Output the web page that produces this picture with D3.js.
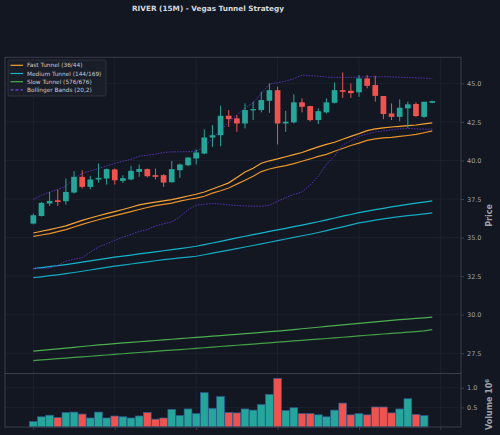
<!DOCTYPE html>
<html>
<head>
<meta charset="utf-8">
<script src="https://cdn.jsdelivr.net/npm/d3@7"></script>
<style>
    body { margin: 0; background: #131722; }
    #chart { width: 500px; height: 435px; }
    text { font-family: "DejaVu Sans", sans-serif; }
</style>
</head>
<body>
<div id="chart"></div>
<script>
// Candle data
const opens  = [35.91, 36.40, 37.21, 37.42, 37.36, 37.92, 38.94, 38.29, 38.77, 38.83,
                39.42, 38.68, 38.77, 39.26, 39.44, 39.05, 39.05, 38.59, 39.37, 39.69,
                40.13, 40.45, 41.49, 41.64, 42.90, 42.73, 42.40, 43.25, 43.27, 43.87,
                44.56, 42.40, 42.47, 43.77, 43.53, 42.62, 43.12, 43.74, 44.56, 44.52,
                44.42, 45.32, 44.89, 44.18, 43.05, 42.83, 43.38, 43.66, 42.83, 43.74];
const highs  = [36.56, 37.31, 37.96, 38.12, 38.83, 39.31, 39.37, 39.00, 39.81, 39.48,
                39.48, 39.04, 39.65, 39.74, 39.48, 39.48, 39.11, 39.97, 39.81, 40.23,
                40.71, 42.01, 42.29, 43.55, 43.27, 42.94, 43.70, 43.81, 44.45, 45.00,
                44.78, 43.22, 44.29, 44.03, 43.55, 43.38, 44.03, 45.06, 45.71, 45.00,
                45.54, 45.54, 45.49, 44.18, 43.70, 43.96, 43.81, 43.77, 43.81, 43.87];
const lows   = [35.86, 36.37, 37.05, 37.05, 37.14, 37.86, 38.18, 38.14, 38.57, 38.44,
                38.44, 38.55, 38.72, 38.94, 38.90, 38.77, 38.29, 38.57, 38.87, 39.63,
                39.74, 40.41, 40.88, 40.93, 42.18, 41.86, 42.08, 42.62, 43.12, 43.09,
                41.04, 41.86, 42.40, 43.12, 42.53, 42.36, 43.05, 43.70, 44.06, 44.06,
                44.13, 44.68, 43.81, 42.68, 42.62, 42.55, 42.12, 42.83, 42.77, 43.72];
const closes = [36.45, 37.25, 37.38, 37.31, 37.96, 38.94, 38.29, 38.77, 38.87, 39.44,
                38.72, 38.85, 39.33, 39.45, 38.98, 38.94, 38.57, 39.44, 39.74, 40.19,
                40.52, 41.49, 41.64, 42.90, 42.68, 42.40, 43.27, 43.33, 43.92, 44.56,
                42.40, 42.51, 43.77, 43.48, 42.62, 43.20, 43.77, 44.56, 44.45, 44.37,
                45.32, 44.84, 44.19, 43.01, 42.83, 43.42, 43.64, 42.88, 43.81, 43.85];
// Volume in millions
const volumes = [0.14, 0.26, 0.30, 0.24, 0.37, 0.38, 0.33, 0.23, 0.38, 0.23,
                 0.28, 0.26, 0.23, 0.28, 0.37, 0.20, 0.23, 0.45, 0.29, 0.46,
                 0.34, 0.875, 0.475, 0.775, 0.37, 0.36, 0.46, 0.43, 0.57, 0.83,
                 1.24, 0.42, 0.49, 0.34, 0.34, 0.31, 0.26, 0.43, 0.61, 0.31,
                 0.34, 0.31, 0.51, 0.51, 0.36, 0.46, 0.72, 0.32, 0.29, 0.0];

// Tunnels and Bollinger bands
const fastUpper = [35.30, 35.41, 35.52, 35.64, 35.76, 35.94, 36.12, 36.27, 36.42, 36.56,
                   36.69, 36.82, 36.97, 37.12, 37.22, 37.30, 37.38, 37.46, 37.58, 37.70,
                   37.81, 37.96, 38.15, 38.35, 38.55, 38.90, 39.26, 39.50, 39.82, 39.98,
                   40.10, 40.24, 40.38, 40.52, 40.70, 40.88, 41.04, 41.18, 41.38, 41.56,
                   41.74, 41.94, 42.05, 42.12, 42.17, 42.21, 42.26, 42.30, 42.37, 42.44];
const fastLower = [35.08, 35.17, 35.26, 35.39, 35.52, 35.69, 35.86, 36.01, 36.16, 36.30,
                   36.43, 36.56, 36.69, 36.82, 36.95, 37.07, 37.16, 37.24, 37.36, 37.47,
                   37.56, 37.68, 37.88, 38.04, 38.22, 38.47, 38.72, 38.98, 39.28, 39.45,
                   39.57, 39.67, 39.80, 39.95, 40.10, 40.27, 40.40, 40.60, 40.78, 40.97,
                   41.13, 41.30, 41.40, 41.46, 41.50, 41.56, 41.62, 41.69, 41.80, 41.92];
const medUpper  = [32.99, 33.05, 33.12, 33.18, 33.25, 33.33, 33.41, 33.49, 33.57, 33.65,
                   33.73, 33.80, 33.87, 33.94, 34.01, 34.08, 34.15, 34.22, 34.29, 34.36,
                   34.44, 34.54, 34.65, 34.76, 34.87, 34.98, 35.09, 35.19, 35.29, 35.40,
                   35.50, 35.60, 35.71, 35.81, 35.92, 36.03, 36.15, 36.27, 36.39, 36.50,
                   36.62, 36.72, 36.81, 36.90, 36.99, 37.07, 37.15, 37.23, 37.30, 37.38];
const medLower  = [32.40, 32.46, 32.53, 32.59, 32.66, 32.74, 32.82, 32.90, 32.99, 33.07,
                   33.15, 33.22, 33.29, 33.36, 33.43, 33.50, 33.57, 33.62, 33.68, 33.73,
                   33.79, 33.89, 33.99, 34.09, 34.19, 34.29, 34.39, 34.49, 34.59, 34.70,
                   34.80, 34.91, 35.01, 35.12, 35.22, 35.33, 35.45, 35.58, 35.70, 35.83,
                   35.95, 36.04, 36.13, 36.21, 36.30, 36.36, 36.42, 36.48, 36.54, 36.60];
const slowUpper = [27.64, 27.69, 27.74, 27.79, 27.84, 27.89, 27.94, 27.99, 28.04, 28.08,
                   28.13, 28.17, 28.21, 28.25, 28.29, 28.33, 28.37, 28.41, 28.45, 28.49,
                   28.53, 28.57, 28.61, 28.65, 28.69, 28.73, 28.77, 28.81, 28.85, 28.90,
                   28.94, 28.99, 29.04, 29.09, 29.14, 29.19, 29.24, 29.29, 29.34, 29.39,
                   29.44, 29.49, 29.54, 29.59, 29.64, 29.68, 29.72, 29.76, 29.80, 29.85];
const slowLower = [27.03, 27.07, 27.11, 27.15, 27.19, 27.23, 27.27, 27.31, 27.35, 27.39,
                   27.43, 27.47, 27.51, 27.55, 27.59, 27.63, 27.67, 27.71, 27.74, 27.78,
                   27.82, 27.86, 27.90, 27.94, 27.98, 28.02, 28.06, 28.10, 28.14, 28.18,
                   28.22, 28.26, 28.30, 28.34, 28.38, 28.42, 28.46, 28.50, 28.54, 28.58,
                   28.63, 28.67, 28.71, 28.75, 28.79, 28.83, 28.87, 28.91, 28.95, 29.03];
const bbUpper   = [37.47, 37.75, 37.96, 38.12, 38.33, 38.83, 39.16, 39.33, 39.48, 39.65,
                   39.81, 39.95, 40.08, 40.28, 40.34, 40.41, 40.52, 40.56, 40.56, 40.57,
                   40.60, 40.88, 41.43, 41.95, 42.50, 42.95, 43.40, 43.74, 44.35, 44.95,
                   45.04, 45.15, 45.30, 45.54, 45.50, 45.47, 45.40, 45.39, 45.39, 45.39,
                   45.40, 45.43, 45.43, 45.43, 45.42, 45.40, 45.38, 45.36, 45.34, 45.30];
const bbLower   = [32.99, 33.00, 33.03, 33.20, 33.48, 33.60, 33.70, 34.06, 34.39, 34.60,
                   34.82, 35.04, 35.20, 35.40, 35.52, 35.75, 35.90, 36.01, 36.35, 36.80,
                   37.10, 37.16, 37.21, 37.18, 37.12, 37.08, 37.05, 37.04, 37.03, 37.10,
                   37.35, 37.60, 37.80, 37.96, 38.40, 38.98, 39.75, 40.30, 41.00, 41.30,
                   41.55, 41.72, 41.85, 41.93, 41.98, 42.05, 42.08, 42.05, 42.04, 42.03];

const priceTicks = [27.5, 30.0, 32.5, 35.0, 37.5, 40.0, 42.5, 45.0];
const volumeTicks = [0.5, 1.0];
const xTicks = [0, 10, 20, 30, 40, 50];

const legendItems = [
    {label: 'Fast Tunnel (36/44)', color: '#f7a233', dash: null},
    {label: 'Medium Tunnel (144/169)', color: '#14b5cc', dash: null},
    {label: 'Slow Tunnel (576/676)', color: '#4caf50', dash: null},
    {label: 'Bollinger Bands (20,2)', color: '#6a48d8', dash: '3,2'}
];

const UP = '#26a69a';
const DOWN = '#ef5350';
const GRID = '#1f2330';
const SPINE = '#3a3e4a';
const TEXT = '#9ea3ad';

function drawChart() {
    const width = 500, height = 435;
    const left = 5, right = 461;
    const priceTop = 57.3, priceBottom = 373.5;
    const volTop = 373.5, volBottom = 427;

    const svg = d3.select('#chart')
        .append('svg')
        .attr('width', width)
        .attr('height', height);

    svg.append('rect')
        .attr('width', width)
        .attr('height', height)
        .attr('fill', '#131722');

    const idx = d3.range(closes.length);

    // Scales
    const x = d3.scaleLinear().domain([-3.48, 52.53]).range([left, right]);
    const y = d3.scaleLinear().domain([26.19, 46.69]).range([priceBottom, priceTop]);
    const yv = d3.scaleLinear().domain([0, d3.max(volumes) * 1.1]).range([volBottom, volTop]);
    const step = x(1) - x(0);

    // Grid lines
    const grid = svg.append('g').attr('stroke', GRID).attr('stroke-width', 0.8);
    grid.selectAll('.vx')
        .data(xTicks)
        .enter().append('line')
        .attr('x1', d => x(d)).attr('x2', d => x(d))
        .attr('y1', priceTop).attr('y2', volBottom);
    grid.selectAll('.hy')
        .data(priceTicks)
        .enter().append('line')
        .attr('x1', left).attr('x2', right)
        .attr('y1', d => y(d)).attr('y2', d => y(d));
    grid.selectAll('.hv')
        .data(volumeTicks)
        .enter().append('line')
        .attr('x1', left).attr('x2', right)
        .attr('y1', d => yv(d)).attr('y2', d => yv(d));

    // Price panel clip
    svg.append('clipPath').attr('id', 'priceClip')
        .append('rect')
        .attr('x', left).attr('y', priceTop)
        .attr('width', right - left).attr('height', priceBottom - priceTop);

    const pg = svg.append('g').attr('clip-path', 'url(#priceClip)');

    const line = arr => d3.line()
        .x((d, i) => x(i))
        .y(d => y(d))(arr);

    // Tunnels
    const series = [
        {data: slowUpper, color: '#4caf50'},
        {data: slowLower, color: '#43a047'},
        {data: medUpper, color: '#14b5cc'},
        {data: medLower, color: '#14a9c2'},
        {data: fastUpper, color: '#f7a233'},
        {data: fastLower, color: '#e8922a'}
    ];
    series.forEach(s => {
        pg.append('path')
            .attr('d', line(s.data))
            .attr('fill', 'none')
            .attr('stroke', s.color)
            .attr('stroke-width', 1.2);
    });

    // Bollinger bands
    [bbUpper, bbLower].forEach(b => {
        pg.append('path')
            .attr('d', line(b))
            .attr('fill', 'none')
            .attr('stroke', '#5232b0')
            .attr('stroke-width', 1)
            .attr('stroke-dasharray', '1.6,1.2');
    });

    // Candles
    const bodyW = step * 0.7;
    const candles = pg.selectAll('.candle')
        .data(idx)
        .enter().append('g')
        .attr('class', 'candle');
    candles.append('line')
        .attr('x1', i => x(i)).attr('x2', i => x(i))
        .attr('y1', i => y(highs[i])).attr('y2', i => y(lows[i]))
        .attr('stroke', i => closes[i] >= opens[i] ? UP : DOWN)
        .attr('stroke-width', 1);
    candles.append('rect')
        .attr('x', i => x(i) - bodyW / 2)
        .attr('width', bodyW)
        .attr('y', i => y(Math.max(opens[i], closes[i])))
        .attr('height', i => Math.max(1, Math.abs(y(opens[i]) - y(closes[i]))))
        .attr('fill', i => closes[i] >= opens[i] ? UP : DOWN);

    // Volume bars
    const volW = step * 0.95;
    svg.append('g').selectAll('rect')
        .data(idx.filter(i => volumes[i] > 0))
        .enter().append('rect')
        .attr('x', i => x(i) - volW / 2)
        .attr('width', volW)
        .attr('y', i => yv(volumes[i]))
        .attr('height', i => yv(0) - yv(volumes[i]))
        .attr('fill', i => closes[i] >= opens[i] ? UP : DOWN)
        .attr('stroke', '#2a5f93')
        .attr('stroke-width', 0.7);

    // Frames
    svg.append('rect')
        .attr('x', left).attr('y', priceTop)
        .attr('width', right - left).attr('height', priceBottom - priceTop)
        .attr('fill', 'none').attr('stroke', SPINE).attr('stroke-width', 1);
    svg.append('rect')
        .attr('x', left).attr('y', volTop)
        .attr('width', right - left).attr('height', volBottom - volTop)
        .attr('fill', 'none').attr('stroke', SPINE).attr('stroke-width', 1);

    // Right axes
    const yAxis = d3.axisRight(y)
        .tickValues(priceTicks)
        .tickFormat(d3.format('.1f'))
        .tickSize(3).tickPadding(3);
    const ya = svg.append('g')
        .attr('transform', `translate(${right},0)`)
        .call(yAxis);
    const yvAxis = d3.axisRight(yv)
        .tickValues(volumeTicks)
        .tickFormat(d3.format('.1f'))
        .tickSize(3).tickPadding(3);
    const yva = svg.append('g')
        .attr('transform', `translate(${right},0)`)
        .call(yvAxis);
    const xAxis = d3.axisBottom(x)
        .tickValues(xTicks)
        .tickFormat('')
        .tickSize(3);
    const xa = svg.append('g')
        .attr('transform', `translate(0,${volBottom})`)
        .call(xAxis);
    [ya, yva, xa].forEach(a => {
        a.select('.domain').remove();
        a.selectAll('line').attr('stroke', SPINE);
        a.selectAll('text')
            .attr('fill', TEXT)
            .style('font-size', '6.5px')
            .style('font-family', '"DejaVu Sans", sans-serif');
    });

    // Axis titles
    svg.append('text')
        .attr('transform', `translate(492,${(priceTop + priceBottom) / 2}) rotate(-90)`)
        .attr('text-anchor', 'middle')
        .attr('fill', TEXT)
        .style('font-size', '8px')
        .style('font-weight', 'bold')
        .text('Price');
    const vt = svg.append('text')
        .attr('transform', `translate(492,${volBottom + 3}) rotate(-90)`)
        .attr('text-anchor', 'start')
        .attr('fill', TEXT)
        .style('font-size', '8px')
        .style('font-weight', 'bold');
    vt.append('tspan').text('Volume  10');
    vt.append('tspan').attr('dy', -3).style('font-size', '5.5px').text('6');

    // Title
    svg.append('text')
        .attr('x', 208)
        .attr('y', 10.5)
        .attr('text-anchor', 'middle')
        .attr('fill', '#d6d8de')
        .style('font-size', '7.3px')
        .style('font-weight', 'bold')
        .text('RIVER (15M) - Vegas Tunnel Strategy');

    // Legend
    const lg = svg.append('g').attr('transform', 'translate(8,60)');
    lg.append('rect')
        .attr('width', 98).attr('height', 36)
        .attr('rx', 1.5)
        .attr('fill', '#1a1e29')
        .attr('stroke', '#343845')
        .attr('stroke-width', 0.8);
    const items = lg.selectAll('.item')
        .data(legendItems)
        .enter().append('g')
        .attr('transform', (d, i) => `translate(0,${5.3 + i * 8.2})`);
    items.append('line')
        .attr('x1', 2.5).attr('x2', 15)
        .attr('stroke', d => d.color)
        .attr('stroke-width', 1.2)
        .attr('stroke-dasharray', d => d.dash);
    items.append('text')
        .attr('x', 19)
        .attr('y', 2)
        .attr('fill', '#c8cad0')
        .style('font-size', '5.8px')
        .text(d => d.label);
}

document.addEventListener('DOMContentLoaded', drawChart);
</script>
</body>
</html>
